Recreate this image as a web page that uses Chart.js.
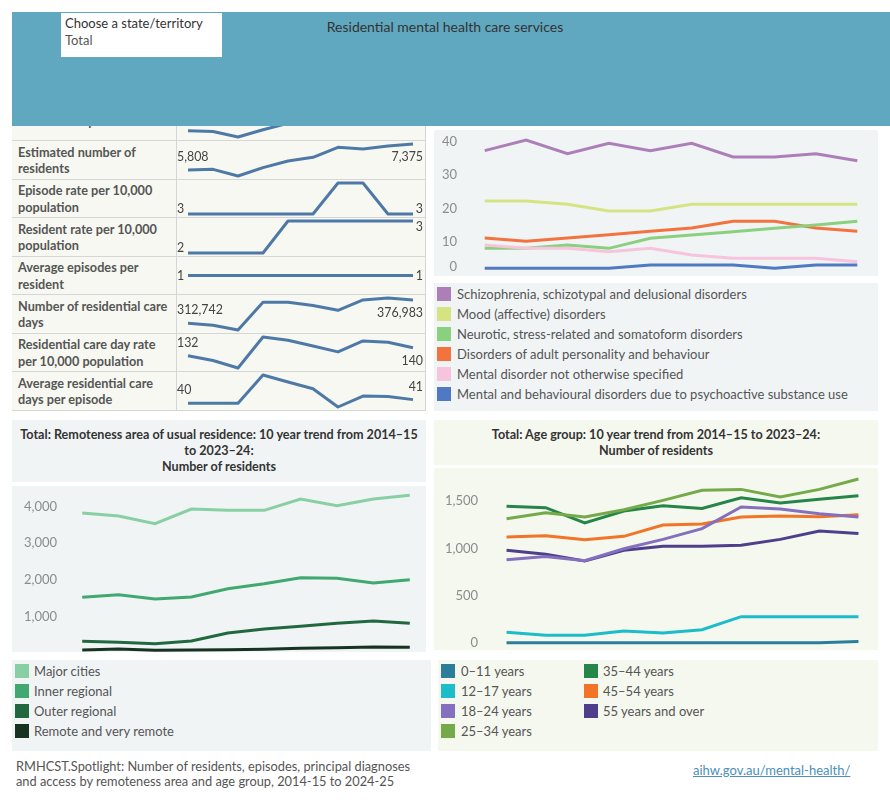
<!DOCTYPE html>
<html><head><meta charset="utf-8">
<script src="https://cdn.jsdelivr.net/npm/chart.js@4/dist/chart.umd.min.js"></script>
<style>
body{margin:0;width:890px;height:800px;position:relative;background:#fff;font-family:Lato,"Noto Sans",sans-serif;overflow:hidden}
.abs{position:absolute}
.header{left:12px;top:12px;width:878px;height:114px;background:#60a8bf;z-index:5}
.selbox{left:49px;top:1px;width:161px;height:44px;background:#fff;font-size:13px;color:#333;line-height:17px;padding:2px 0 0 4px;box-sizing:border-box}
.htitle{left:0;width:866px;top:6px;text-align:center;font-size:14px;color:#333}
.row{left:12px;width:414px;border-bottom:1px solid #d6d6d6;border-right:1px solid #d6d6d6;background:#f6f8f1;box-sizing:border-box}
.lab{left:6px;top:0;bottom:0;display:flex;align-items:center;font-weight:bold;font-size:12.7px;line-height:16.5px;color:#555;white-space:nowrap}
.vsep{left:164px;top:0;bottom:0;width:1px;background:#d6d6d6}
.panelB{background:#f0f4f5}
.panelG{background:#f5f8ef}
.ttl{font-weight:bold;font-size:12.6px;color:#333;text-align:center;line-height:16px;white-space:nowrap}
.leg{font-size:13px;color:#555;white-space:nowrap}
.sw{position:absolute;width:14px;height:14px}
</style></head><body>
<script>
// ---------- DATA ----------
const years = ['2014–15','2015–16','2016–17','2017–18','2018–19','2019–20','2020–21','2021–22','2022–23','2023–24'];

const metricNames = ['Number of episodes','Estimated number of<br>residents','Episode rate per 10,000<br>population','Resident rate per 10,000<br>population','Average episodes per<br>resident','Number of residential care<br>days','Residential care day rate<br>per 10,000 population','Average residential care<br>days per episode'];
const episodes      = [7950, 7900, 7420, 8050, 8600, 8900, 9700, 9500, 9900, 10100];
const residentsEst  = [5808, 5848, 5446, 5949, 6351, 6572, 7175, 7075, 7255, 7375];
const episodeRate   = [3.2, 3.2, 3.2, 3.2, 3.2, 3.2, 3.6, 3.6, 3.2, 3.2];
const residentRate  = [2.4, 2.4, 2.4, 2.4, 2.6, 2.6, 2.6, 2.6, 2.6, 2.6];
const avgEpisodes   = [1, 1, 1, 1, 1, 1, 1, 1, 1, 1];
const careDays      = [312742, 307390, 294010, 370720, 370720, 361800, 348420, 376983, 382335, 376983];
const careDayRate   = [132, 127.2, 119.8, 150.6, 147.4, 141.6, 135.8, 146.7, 145.4, 140];
const avgCareDays   = [40, 40, 40, 48, 46, 44.1, 38.9, 42, 41.9, 41];

const diagNames = ['Schizophrenia, schizotypal and delusional disorders','Mood (affective) disorders','Neurotic, stress-related and somatoform disorders','Disorders of adult personality and behaviour','Mental disorder not otherwise specified','Mental and behavioural disorders due to psychoactive substance use'];
const schizophrenia = [37.3, 40.5, 36.4, 39.5, 37.3, 39.5, 35.4, 35.4, 36.4, 34.3];
const mood          = [22.2, 22.2, 21.2, 19.2, 19.2, 21.2, 21.2, 21.2, 21.2, 21.2];
const neurotic      = [8, 8, 9, 8, 11, 12, 13, 14, 15, 16.1];
const personality   = [11.1, 10.1, 11.1, 12.1, 13.1, 14.1, 16.1, 16.1, 14.1, 13.1];
const notSpecified  = [9, 8, 8, 7, 8, 6, 5, 5, 5, 4];
const psychoactive  = [2, 2, 2, 2, 3, 3, 3, 2, 3, 3];
const diagTicks = [0, 10, 20, 30, 40];

const remoteNames = ['Major cities','Inner regional','Outer regional','Remote and very remote'];
const majorCities   = [3818, 3736, 3527, 3927, 3891, 3891, 4200, 4018, 4200, 4300];
const innerRegional = [1518, 1591, 1473, 1527, 1754, 1891, 2054, 2036, 1909, 2000];
const outerRegional = [318, 291, 255, 327, 545, 655, 727, 809, 873, 809];
const remoteVery    = [82, 109, 73, 82, 91, 100, 127, 145, 164, 155];
const remoteTicks = [1000, 2000, 3000, 4000];

const ageNames = ['0–11 years','12–17 years','18–24 years','25–34 years','35–44 years','45–54 years','55 years and over'];
const age0_11  = [2, 2, 2, 2, 2, 2, 2, 2, 3, 17];
const age12_17 = [113, 81, 81, 127, 106, 141, 278, 278, 278, 278];
const age18_24 = [880, 915, 870, 996, 1095, 1208, 1437, 1415, 1366, 1331];
const age25_34 = [1313, 1377, 1331, 1408, 1507, 1613, 1623, 1542, 1623, 1732];
const age35_44 = [1444, 1430, 1268, 1394, 1451, 1422, 1535, 1479, 1518, 1556];
const age45_54 = [1120, 1134, 1092, 1127, 1246, 1257, 1331, 1342, 1334, 1356];
const age55up  = [979, 937, 866, 979, 1021, 1021, 1032, 1095, 1183, 1158];
const ageTicks = [0, 500, 1000, 1500];
</script>

<div class="abs header">
  <div class="abs selbox">Choose a state/territory<br><span style="color:#555">Total</span></div>
  <div class="abs htitle">Residential mental health care services</div>
</div>

<div id="table"></div>

<div class="abs panelB" style="left:434px;top:130px;width:444px;height:146px"></div>
<canvas id="diag" class="abs" style="left:434px;top:130px" width="444" height="146"></canvas>
<div id="diagLeg" class="abs panelB" style="left:434px;top:283px;width:444px;height:128px"></div>

<div class="abs panelB ttl" style="left:12px;top:420px;width:414px;height:62px;padding-top:7px;box-sizing:border-box">Total: Remoteness area of usual residence: 10 year trend from 2014–15<br>to 2023–24:<br>Number of residents</div>
<div class="abs panelB" style="left:12px;top:486px;width:414px;height:166px"></div>
<canvas id="remote" class="abs" style="left:12px;top:486px" width="416" height="167"></canvas>
<div id="remLeg" class="abs panelB" style="left:12px;top:660px;width:419px;height:91px"></div>

<div class="abs panelG ttl" style="left:434px;top:420px;width:444px;height:45px;padding-top:7px;box-sizing:border-box">Total: Age group: 10 year trend from 2014–15 to 2023–24:<br>Number of residents</div>
<div class="abs panelG" style="left:434px;top:468px;width:444px;height:182px"></div>
<canvas id="age" class="abs" style="left:434px;top:468px" width="444" height="182"></canvas>
<div id="ageLeg" class="abs panelG" style="left:438px;top:660px;width:440px;height:91px"></div>

<div class="abs" style="left:16px;top:759px;font-size:12.8px;color:#555;line-height:15px">RMHCST.Spotlight: Number of residents, episodes, principal diagnoses<br>and access by remoteness area and age group, 2014-15 to 2024-25</div>
<div class="abs" style="left:693px;top:762px;font-size:13px;color:#4a90b8;text-decoration:underline">aihw.gov.au/mental-health/</div>

<script>
const FONT = 'Lato, "Noto Sans", sans-serif';
const fmt = v => Math.round(v).toLocaleString('en-US');

// ---------- sparkline table ----------
const sparkSeries = [episodes, residentsEst, episodeRate, residentRate, avgEpisodes, careDays, careDayRate, avgCareDays];
const rowTops = [103, 141, 180, 218, 257, 295, 334, 372, 411];
const endLabels = {
  id: 'endLabels',
  afterDatasetsDraw(chart) {
    const ctx = chart.ctx;
    const meta = chart.getDatasetMeta(0);
    const d = chart.data.datasets[0].data;
    const c = chart.height / 2;
    ctx.save();
    ctx.font = '12.4px ' + FONT;
    ctx.fillStyle = '#444';
    ctx.textBaseline = 'middle';
    [[0, 'left', 0], [d.length - 1, 'right', chart.width - 2]].forEach(([i, al, x]) => {
      const pt = meta.data[i];
      const t = fmt(d[i]);
      const w = ctx.measureText(t).width;
      const off = w > 9 ? 13 : 5.5;
      let dy = 0;
      if (Math.abs(pt.y - c) >= 3) dy = pt.y < c ? off : -off;
      ctx.textAlign = al;
      ctx.fillText(t, x, pt.y + dy);
    });
    ctx.restore();
  }
};
const tbl = document.getElementById('table');
sparkSeries.forEach((s, i) => {
  const top = rowTops[i], h = rowTops[i + 1] - top;
  const row = document.createElement('div');
  row.className = 'abs row';
  row.style.top = top + 'px';
  row.style.height = h + 'px';
  row.innerHTML = '<div class="abs lab">' + metricNames[i] + '</div><div class="abs vsep"></div>';
  const cv = document.createElement('canvas');
  cv.className = 'abs';
  cv.style.left = '165px'; cv.style.top = '0px';
  cv.width = 248; cv.height = h - 1;
  row.appendChild(cv);
  tbl.appendChild(row);
  let mn = Math.min(...s), mx = Math.max(...s);
  if (mn === mx) { mn -= 1; mx += 1; }
  new Chart(cv, {
    type: 'line',
    data: { labels: years, datasets: [{ data: s, borderColor: '#4e79a7', borderWidth: 3, pointRadius: 0, tension: 0, clip: false, borderJoinStyle: 'round' }] },
    options: {
      responsive: false, animation: false, events: [],
      layout: { padding: { left: 11, right: 12, top: 3, bottom: 3 } },
      plugins: { legend: { display: false }, tooltip: { enabled: false } },
      scales: { x: { display: false }, y: { display: false, min: mn, max: mx } }
    },
    plugins: [endLabels]
  });
});

// ---------- y label plugin ----------
const yLabels = {
  id: 'yLabels',
  afterDraw(chart, args, opts) {
    const sc = chart.scales.y, ctx = chart.ctx;
    ctx.save();
    ctx.font = '13px ' + FONT;
    ctx.fillStyle = '#8c8c8c';
    ctx.textAlign = 'right';
    ctx.textBaseline = 'middle';
    opts.values.forEach(v => {
      let y = sc.getPixelForValue(v);
      y = Math.min(y, chart.height - (opts.bottomGap || 7));
      ctx.fillText(v.toLocaleString('en-US'), opts.right, y);
    });
    ctx.restore();
  }
};

function lineChart(id, series, colors, opts) {
  return new Chart(document.getElementById(id), {
    type: 'line',
    data: { labels: years, datasets: series.map((s, i) => ({ data: s, borderColor: colors[i], borderWidth: 3, pointRadius: 0, tension: 0, clip: false })) },
    options: {
      responsive: false, animation: false, events: [],
      layout: { padding: opts.padding },
      plugins: { legend: { display: false }, tooltip: { enabled: false }, yLabels: opts.yl },
      scales: { x: { display: false, offset: true }, y: { display: false, min: opts.min, max: opts.max } }
    },
    plugins: [yLabels]
  });
}

const diagColors = ['#ad7fb8', '#d5e383', '#8bd07e', '#f3733f', '#f7c4dd', '#5079c3'];
lineChart('diag', [psychoactive, notSpecified, neurotic, personality, mood, schizophrenia],
  ['#5079c3', '#f7c4dd', '#8bd07e', '#f3733f', '#d5e383', '#ad7fb8'],
  { padding: { left: 30, right: 0, top: 0, bottom: 1 }, min: 0, max: 43.5, yl: { values: diagTicks, right: 23, bottomGap: 9 } });

const remColors = ['#88cfa3', '#41a870', '#22683f', '#163322'];
lineChart('remote', [majorCities, innerRegional, outerRegional, remoteVery], remColors,
  { padding: { left: 52, right: 0, top: 0, bottom: 0 }, min: 0, max: 4554, yl: { values: remoteTicks, right: 45 } });

const ageColors = ['#2c7d9a', '#1cbcc8', '#8470be', '#74aa4a', '#268549', '#f27427', '#4f3f8a'];
lineChart('age', [age0_11, age12_17, age18_24, age25_34, age35_44, age45_54, age55up], ageColors,
  { padding: { left: 53, right: 0, top: 0, bottom: 7 }, min: 0, max: 1849, yl: { values: ageTicks, right: 44, bottomGap: 0 } });

// ---------- legends ----------
function legend(id, names, colors, items) {
  const el = document.getElementById(id);
  names.forEach((n, i) => {
    const [sx, tx, cy] = items(i);
    el.insertAdjacentHTML('beforeend',
      '<div class="sw" style="left:' + sx + 'px;top:' + (cy - 7) + 'px;background:' + colors[i] + '"></div>' +
      '<div class="abs leg" style="left:' + tx + 'px;top:' + (cy - 9) + 'px;line-height:18px">' + n + '</div>');
  });
}
legend('diagLeg', diagNames, diagColors, i => [3, 23, 11 + 20 * i]);
legend('remLeg', remoteNames, remColors, i => [3, 22, 11 + 20 * i]);
legend('ageLeg', ageNames, ageColors, i => i < 4 ? [3, 23, 11 + 20 * i] : [146, 165, 11 + 20 * (i - 4)]);
</script>
</body></html>
